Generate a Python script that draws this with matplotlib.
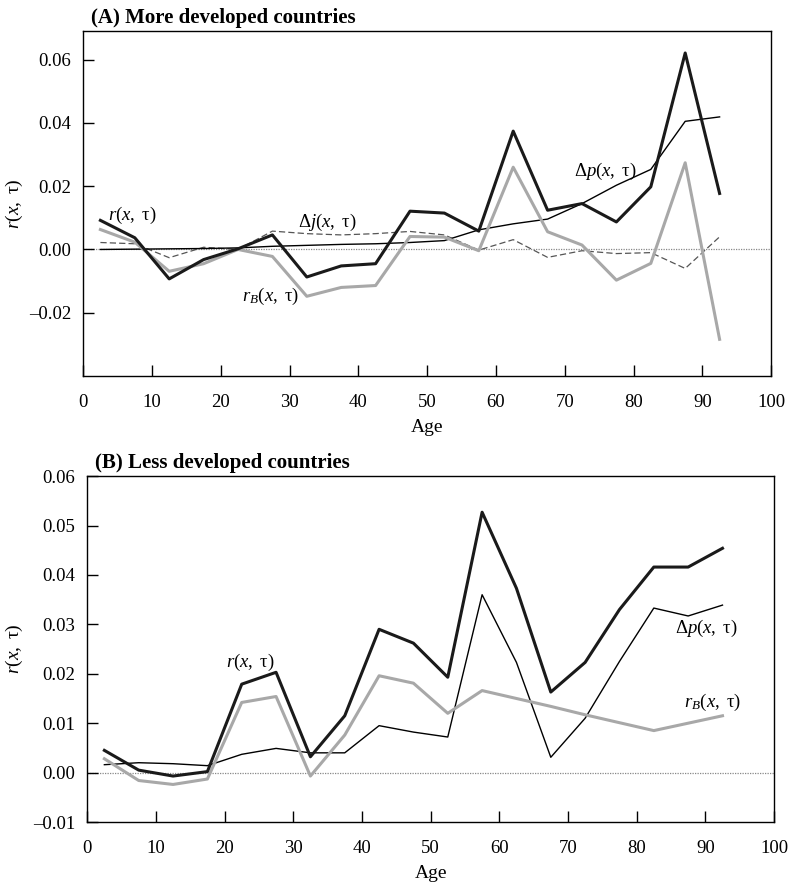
import numpy as np
import matplotlib
matplotlib.use("Agg")
import matplotlib.pyplot as plt
from matplotlib.ticker import FuncFormatter

plt.rcParams['font.family'] = ['Liberation Serif', 'DejaVu Serif']
plt.rcParams['mathtext.fontset'] = 'custom'
plt.rcParams['mathtext.rm'] = 'Liberation Serif'
plt.rcParams['mathtext.it'] = 'Liberation Serif:italic'
plt.rcParams['mathtext.bf'] = 'Liberation Serif:bold'

ages = [2.5, 7.5, 12.5, 17.5, 22.5, 27.5, 32.5, 37.5, 42.5, 47.5,
        52.5, 57.5, 62.5, 67.5, 72.5, 77.5, 82.5, 87.5, 92.5]

# (A) more developed countries
r_a = [0.0092, 0.0037, -0.0093, -0.0032, 0.0002, 0.0046, -0.0087, -0.0052, -0.0045, 0.0121,
       0.0115, 0.0058, 0.0374, 0.0124, 0.0145, 0.0087, 0.0198, 0.0621, 0.0177]
rb_a = [0.0063, 0.0023, -0.0069, -0.0045, 0.0000, -0.0022, -0.0148, -0.0120, -0.0114, 0.0041,
        0.0039, -0.0004, 0.0260, 0.0056, 0.0014, -0.0097, -0.0044, 0.0274, -0.0284]
dj_a = [0.0022, 0.0018, -0.0026, 0.0007, 0.0000, 0.0058, 0.0050, 0.0046, 0.0050, 0.0057,
        0.0046, -0.0002, 0.0031, -0.0025, -0.0004, -0.0013, -0.0010, -0.0060, 0.0040]
dp_a = [0.0000, 0.0001, 0.0002, 0.0003, 0.0005, 0.0010, 0.0013, 0.0016, 0.0018, 0.0022,
        0.0028, 0.0062, 0.0081, 0.0096, 0.0145, 0.0203, 0.0253, 0.0405, 0.0419]

# (B) less developed countries
r_b = [0.0045, 0.0005, -0.0007, 0.0002, 0.0179, 0.0203, 0.0032, 0.0115, 0.0290, 0.0262,
       0.0193, 0.0527, 0.0373, 0.0163, 0.0223, 0.0330, 0.0416, 0.0416, 0.0454]
rb_b = [0.0028, -0.0016, -0.0024, -0.0013, 0.0142, 0.0154, -0.0007, 0.0076, 0.0196, 0.0181,
        0.0120, 0.0166, 0.0150, 0.0134, 0.0117, 0.0101, 0.0085, 0.0100, 0.0115]
dp_b = [0.0016, 0.0020, 0.0018, 0.0014, 0.0037, 0.0049, 0.0040, 0.0040, 0.0095, 0.0082,
        0.0072, 0.0360, 0.0223, 0.0031, 0.0110, 0.0225, 0.0333, 0.0317, 0.0339]

r_lbl = r'$r(x,\ \mathrm{\tau})$'
rb_lbl = r'$r_B(x,\ \mathrm{\tau})$'
dp_lbl = r'$\Delta p(x,\ \mathrm{\tau})$'
dj_lbl = r'$\Delta j(x,\ \mathrm{\tau})$'

fig = plt.figure(figsize=(8, 8.9), dpi=100)
ax1 = fig.add_axes([0.104, 0.5775, 0.860, 0.3875])
ax2 = fig.add_axes([0.109, 0.0764, 0.8585, 0.3886])

grey = '#a8a8a8'
fmt = FuncFormatter(lambda v, p: ('%.2f' % v).replace('-', '\u2013'))


def style(ax, title, ylab_x):
    ax.set_xlim(0, 100)
    ax.set_xticks(np.arange(0, 101, 10))
    ax.tick_params(direction='in', length=8, width=1, labelsize=13.5,
                   top=False, right=False)
    ax.tick_params(axis='x', pad=13)
    ax.tick_params(axis='y', pad=8.5)
    for s in ax.spines.values():
        s.set_linewidth(1.0)
    ax.axhline(0, color='#888888', lw=0.9, ls=(0, (1, 1)), zorder=1)
    ax.set_xlabel('Age', fontsize=14, labelpad=6)
    ax.set_ylabel(r_lbl, fontsize=14)
    ax.yaxis.set_label_coords(ylab_x, 0.5)
    ax.set_title(title, fontsize=15, fontweight='bold', loc='left', pad=6, x=0.012)
    ax.yaxis.set_major_formatter(fmt)


# panel A
ax1.plot(ages, dj_a, color='#555555', lw=0.9, ls=(0, (5, 2.5)))
ax1.plot(ages, dp_a, color='black', lw=1.0)
ax1.plot(ages, rb_a, color=grey, lw=2.2)
ax1.plot(ages, r_a, color='#1a1a1a', lw=2.2)
ax1.set_ylim(-0.04, 0.069)
ax1.set_yticks([-0.02, 0.0, 0.02, 0.04, 0.06])
style(ax1, '(A) More developed countries', -0.085)
ax1.text(7.1, 0.0108, r_lbl, fontsize=13.5, ha='center', va='center')
ax1.text(35.5, 0.0086, dj_lbl, fontsize=13.5, ha='center', va='center')
ax1.text(27.2, -0.0148, rb_lbl, fontsize=13.5, ha='center', va='center')
ax1.text(75.9, 0.0247, dp_lbl, fontsize=13.5, ha='center', va='center')

# panel B
ax2.plot(ages, dp_b, color='black', lw=1.0)
ax2.plot(ages, rb_b, color=grey, lw=2.2)
ax2.plot(ages, r_b, color='#1a1a1a', lw=2.2)
ax2.set_ylim(-0.01, 0.06)
ax2.set_yticks(np.arange(-0.01, 0.0601, 0.01))
style(ax2, '(B) Less developed countries', -0.091)
ax2.text(23.7, 0.0222, r_lbl, fontsize=13.5, ha='center', va='center')
ax2.text(90.1, 0.0291, dp_lbl, fontsize=13.5, ha='center', va='center')
ax2.text(91.1, 0.0141, rb_lbl, fontsize=13.5, ha='center', va='center')

fig.savefig('out.png', dpi=100)
